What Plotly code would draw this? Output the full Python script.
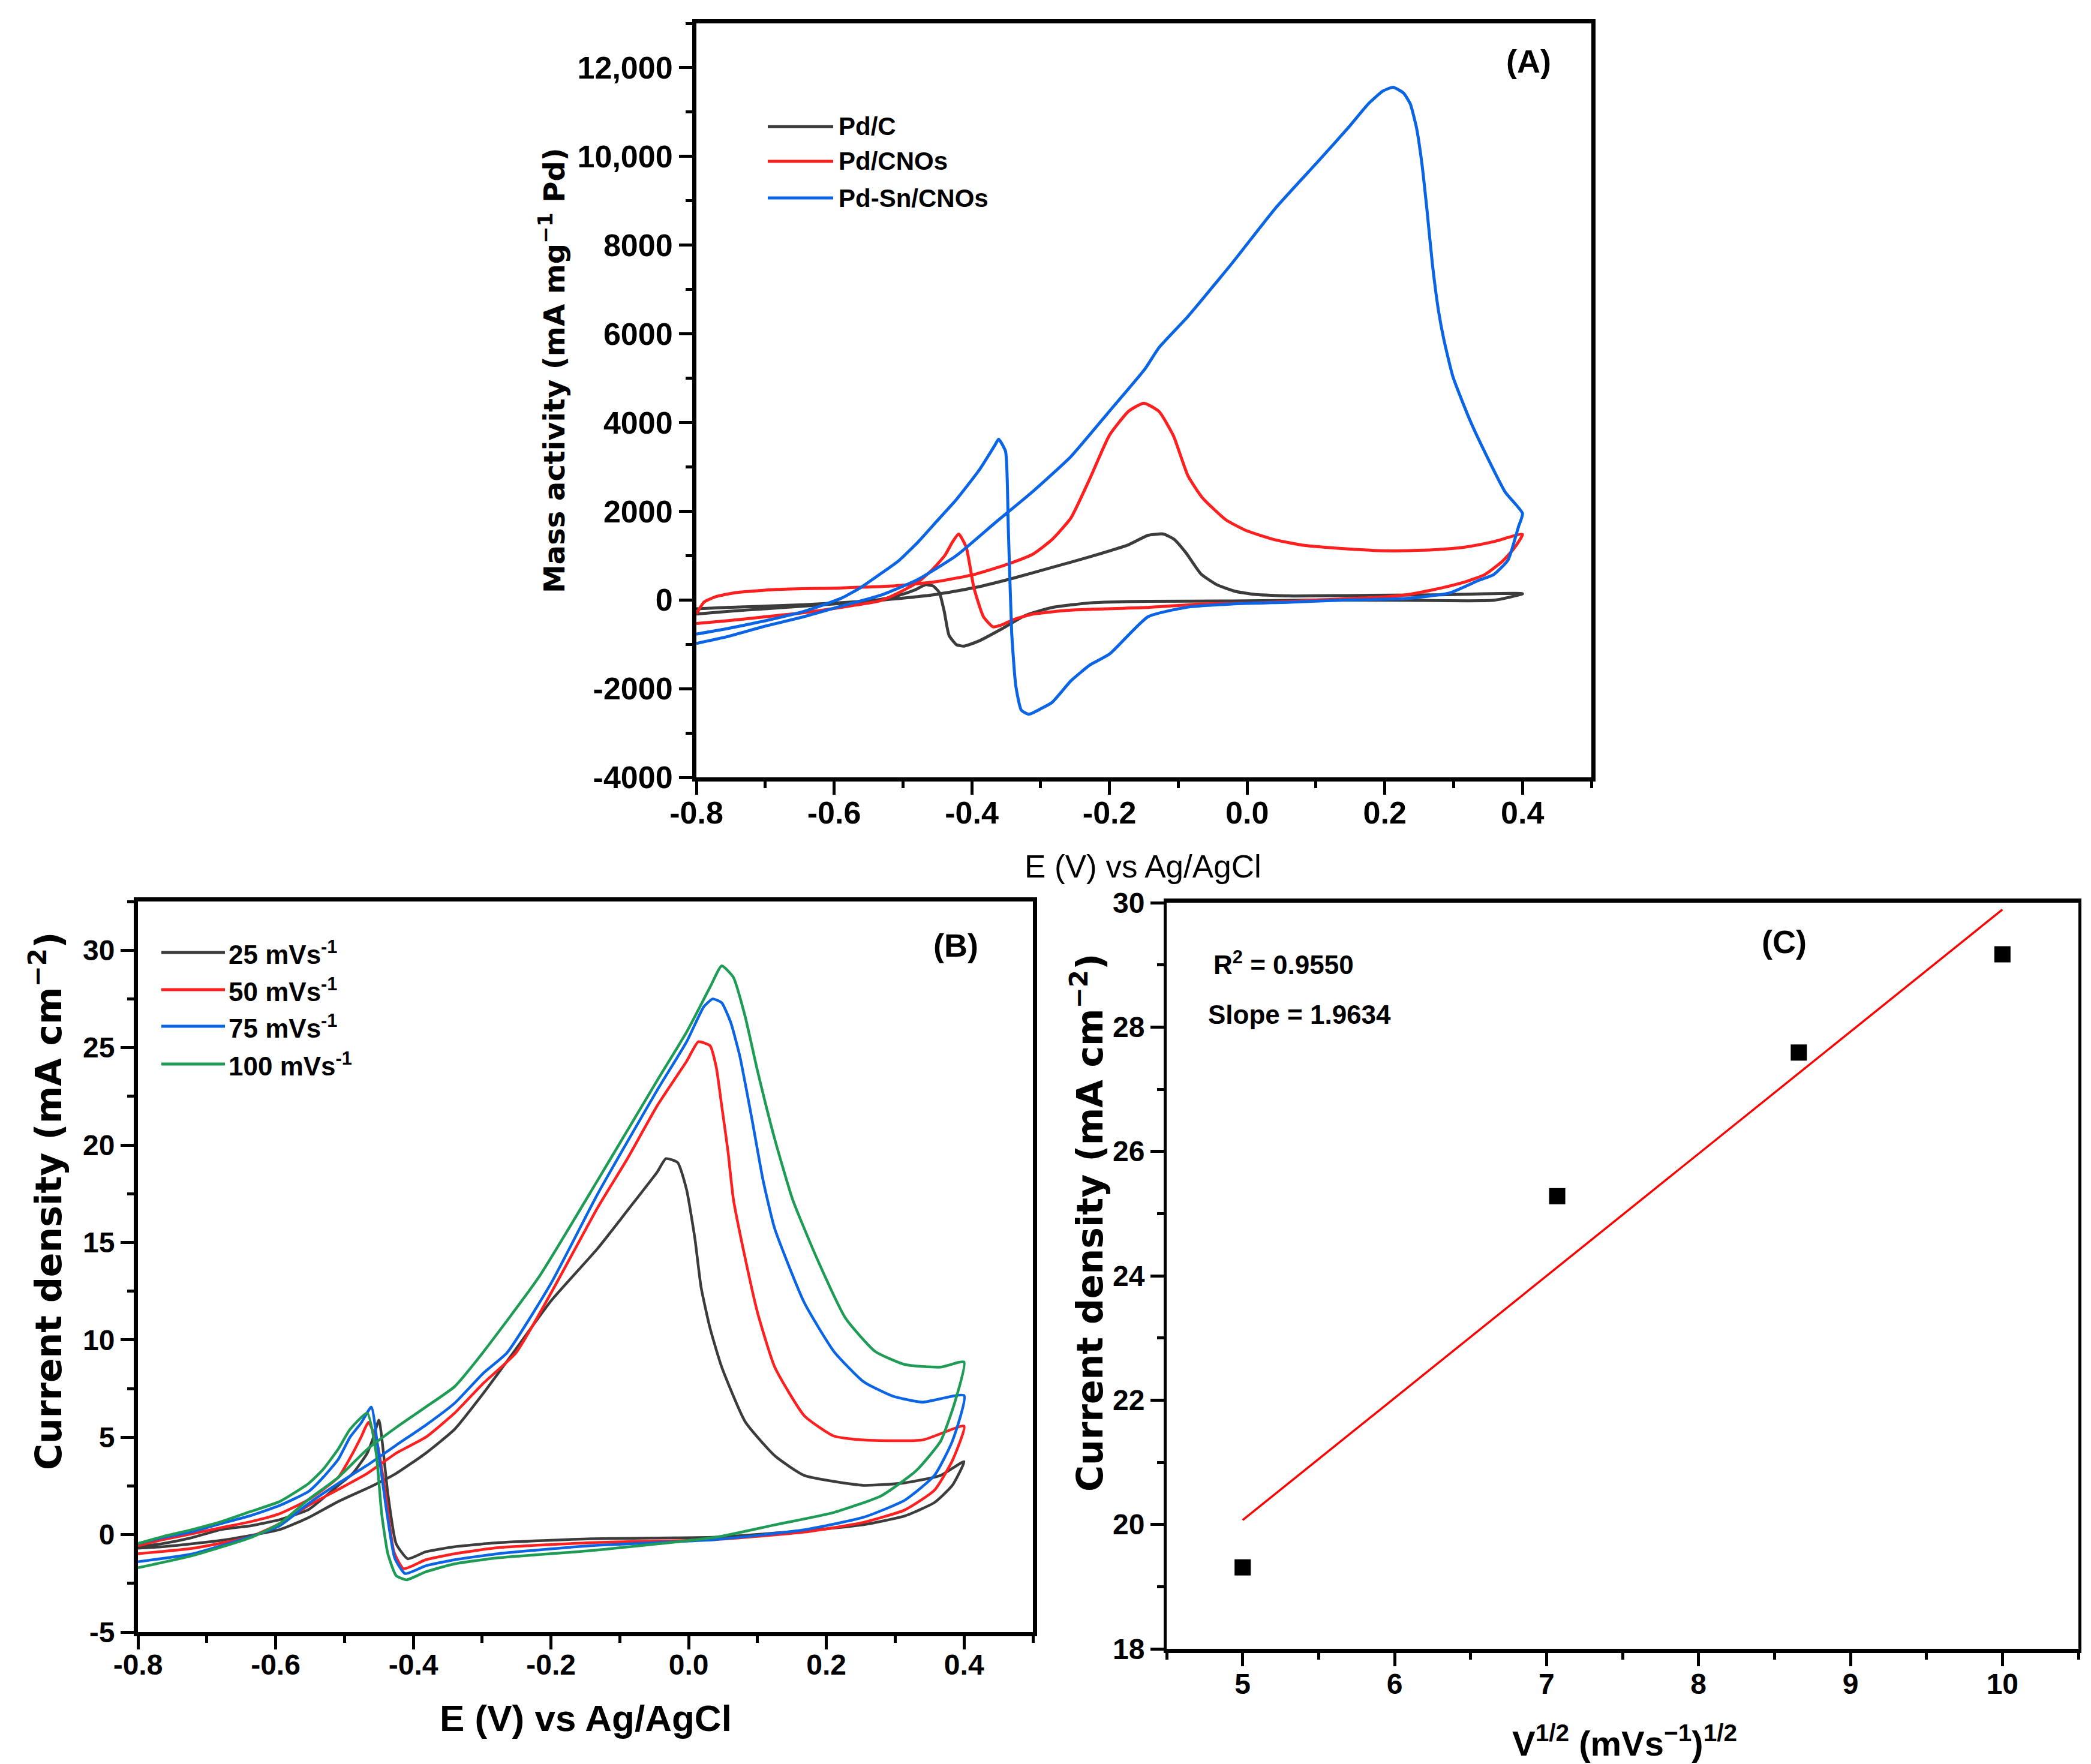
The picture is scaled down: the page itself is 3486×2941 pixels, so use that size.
import plotly.graph_objects as go

W, H = 3486, 2941

# ---------------- panel A: mass activity CVs ----------------
pdc_e = [-0.8, -0.756, -0.644, -0.533, -0.456, -0.394, -0.339, -0.283, -0.228, -0.172, -0.144, -0.122,
         -0.106, -0.089, -0.067, -0.044, -0.017, 0.011, 0.06, 0.147, 0.273, 0.4,
         0.358, 0.231, 0.104, -0.022, -0.144, -0.228, -0.283, -0.322, -0.356, -0.389, -0.411, -0.422,
         -0.433, -0.44, -0.447, -0.456, -0.467, -0.483, -0.506, -0.533, -0.589, -0.644, -0.7, -0.756, -0.8]
pdc_i = [-199, -169, -108, -6, 114, 283, 494, 734, 975, 1246, 1457, 1487,
         1367, 1066, 584, 343, 193, 126, 90, 99, 116, 140,
         -8, -8, 0, -25, -30, -66, -169, -349, -650, -921, -1041, -1011,
         -800, -259, 163, 313, 343, 223, 102, 12, -78, -138, -199, -259, -319]

pdcno_e = [-0.8, -0.789, -0.772, -0.744, -0.683, -0.589, -0.517, -0.45, -0.394, -0.35, -0.311, -0.283,
           -0.256, -0.228, -0.2, -0.172, -0.15, -0.128, -0.107, -0.086, -0.065, -0.031, -0.001, 0.041,
           0.083, 0.147, 0.21, 0.273, 0.316, 0.358, 0.4,
           0.387, 0.37, 0.345, 0.316, 0.273, 0.231, 0.189, 0.104, 0.02, -0.065, -0.144, -0.256, -0.311,
           -0.339, -0.356, -0.369, -0.383, -0.397, -0.408, -0.419, -0.428, -0.439, -0.456, -0.478,
           -0.506, -0.533, -0.578, -0.644, -0.7, -0.756, -0.8]
pdcno_i = [-319, -48, 72, 163, 235, 271, 313, 415, 584, 795, 1035, 1367,
           1848, 2751, 3714, 4256, 4437, 4250, 3700, 2800, 2305, 1809, 1561, 1355,
           1231, 1148, 1107, 1132, 1190, 1313, 1479,
           1148, 859, 570, 405, 240, 116, 58, 0, -66, -91, -169, -229, -319,
           -440, -560, -608, -379, 283, 1186, 1487, 1306, 1005, 704, 403,
           163, -18, -138, -289, -379, -470, -530]

pdsn_e = [-0.8, -0.756, -0.7, -0.644, -0.589, -0.533, -0.478, -0.422, -0.367, -0.311, -0.256, -0.2,
          -0.149, -0.128, -0.086, -0.022, 0.041, 0.104, 0.147, 0.176, 0.197, 0.212, 0.227, 0.237,
          0.246, 0.254, 0.261, 0.269, 0.278, 0.286, 0.299, 0.324, 0.349, 0.375, 0.4,
          0.394, 0.379, 0.358, 0.337, 0.294, 0.231, 0.147, 0.062, -0.022, -0.089, -0.144, -0.2,
          -0.228, -0.256, -0.283, -0.3, -0.317, -0.328, -0.336, -0.342, -0.347, -0.351, -0.361,
          -0.367, -0.389, -0.422, -0.45, -0.478, -0.506, -0.533, -0.561, -0.589, -0.644, -0.7,
          -0.756, -0.8]
pdsn_i = [-981, -831, -590, -379, -138, 102, 464, 1005, 1728, 2450, 3233, 4256,
          5196, 5691, 6393, 7591, 8830, 9904, 10650, 11184, 11473, 11560, 11432, 11184,
          10647, 9821, 8830, 7591, 6517, 5856, 5030, 4039, 3213, 2428, 1950,
          1644, 900, 570, 446, 157, 33, 0, -50, -91, -169, -379, -1222,
          -1463, -1824, -2306, -2456, -2577, -2486, -1944, -740, 1667, 3353, 3624,
          3473, 2932, 2270, 1788, 1306, 885, 584, 283, 42, -259, -470,
          -650, -770]

a_tickvals = [-4000, -2000, 0, 2000, 4000, 6000, 8000, 10000, 12000]
a_ticktext = ["-4000", "-2000", "0", "2000", "4000", "6000", "8000", "10,000", "12,000"]
e_tickvals = [-0.8, -0.6, -0.4, -0.2, 0.0, 0.2, 0.4]
e_ticktext = ["-0.8", "-0.6", "-0.4", "-0.2", "0.0", "0.2", "0.4"]

# ---------------- panel B: scan-rate CVs ----------------
v25_e = [-0.8, -0.764, -0.68, -0.594, -0.552, -0.509, -0.458, -0.425, -0.382, -0.34, -0.298, -0.255,
         -0.2, -0.132, -0.081, -0.046, -0.033, -0.016, -0.003, 0.009, 0.018, 0.031, 0.048, 0.082,
         0.125, 0.168, 0.254, 0.314, 0.366, 0.4,
         0.383, 0.357, 0.314, 0.254, 0.168, 0.04, -0.142, -0.277, -0.34, -0.382, -0.408, -0.425,
         -0.437, -0.45, -0.458, -0.467, -0.488, -0.509, -0.552, -0.594, -0.636, -0.679, -0.721,
         -0.764, -0.8]
v25_j = [-0.7, -0.62, -0.3, 0.26, 0.88, 1.7, 2.53, 3.14, 4.18, 5.41, 7.27, 9.33,
         12.0, 14.7, 17.0, 18.6, 19.3, 19.1, 17.7, 15.2, 12.7, 10.6, 8.6, 5.8,
         4.05, 3.04, 2.53, 2.66, 3.04, 3.75,
         2.53, 1.65, 0.96, 0.51, 0.2, -0.13, -0.21, -0.41, -0.62, -0.88, -1.24, -0.46,
         2.1, 5.88, 5.0, 4.18, 3.14, 2.53, 1.29, 0.77, 0.46, 0.26, -0.15,
         -0.46, -0.62]

v50_e = [-0.8, -0.72, -0.636, -0.594, -0.552, -0.509, -0.467, -0.425, -0.382, -0.34, -0.298, -0.251,
         -0.2, -0.132, -0.089, -0.046, -0.003, 0.014, 0.031, 0.04, 0.048, 0.057, 0.065, 0.082,
         0.1, 0.125, 0.168, 0.211, 0.254, 0.34, 0.4,
         0.383, 0.357, 0.314, 0.254, 0.168, 0.04, -0.142, -0.277, -0.34, -0.382, -0.414, -0.428,
         -0.44, -0.452, -0.465, -0.476, -0.488, -0.509, -0.552, -0.594, -0.636, -0.679, -0.721,
         -0.764, -0.8]
v50_j = [-0.98, -0.7, -0.1, 0.57, 1.5, 2.32, 3.14, 4.18, 5.0, 6.24, 7.78, 9.33,
         12.4, 16.8, 19.3, 22.0, 24.3, 25.3, 25.1, 24.0, 22.0, 19.7, 17.2, 14.2,
         11.4, 8.6, 6.1, 5.06, 4.86, 4.86, 5.57,
         3.8, 2.28, 1.27, 0.63, 0.13, -0.25, -0.41, -0.67, -0.98, -1.29, -1.75, -0.9,
         2.0, 4.6, 5.77, 5.0, 4.18, 2.94, 1.8, 1.08, 0.67, 0.36, 0.05,
         -0.26, -0.57]

v75_e = [-0.8, -0.72, -0.636, -0.594, -0.552, -0.509, -0.467, -0.425, -0.382, -0.34, -0.298, -0.264,
         -0.2, -0.132, -0.046, -0.003, 0.022, 0.035, 0.048, 0.061, 0.074, 0.091, 0.108, 0.125,
         0.168, 0.211, 0.254, 0.297, 0.34, 0.4,
         0.383, 0.357, 0.314, 0.254, 0.168, 0.04, -0.142, -0.277, -0.34, -0.382, -0.412, -0.427,
         -0.44, -0.452, -0.461, -0.476, -0.492, -0.509, -0.531, -0.552, -0.594, -0.636, -0.679,
         -0.721, -0.764, -0.8]
v75_j = [-1.39, -0.98, -0.1, 0.46, 1.6, 2.63, 3.56, 4.59, 5.62, 6.75, 8.3, 9.33,
         12.9, 17.5, 22.8, 25.3, 27.1, 27.5, 27.3, 26.3, 24.6, 21.5, 18.2, 15.7,
         11.9, 9.4, 7.85, 7.1, 6.8, 7.14,
         4.8, 3.04, 1.77, 0.89, 0.25, -0.25, -0.57, -0.98, -1.29, -1.6, -2.0, -1.2,
         1.5, 4.6, 6.55, 5.72, 5.0, 3.87, 2.94, 2.22, 1.5, 0.98, 0.57,
         0.15, -0.15, -0.46]

v100_e = [-0.8, -0.721, -0.636, -0.594, -0.552, -0.509, -0.467, -0.425, -0.382, -0.34, -0.3, -0.218,
          -0.132, -0.046, -0.003, 0.031, 0.048, 0.065, 0.082, 0.1, 0.125, 0.151, 0.186, 0.228,
          0.271, 0.314, 0.366, 0.4,
          0.387, 0.366, 0.331, 0.28, 0.211, 0.125, 0.04, -0.142, -0.277, -0.34, -0.382, -0.41,
          -0.425, -0.437, -0.446, -0.454, -0.467, -0.492, -0.509, -0.531, -0.552, -0.594, -0.636,
          -0.679, -0.721, -0.764, -0.8]
v100_j = [-1.7, -1.08, -0.15, 0.57, 1.81, 2.94, 4.38, 5.5, 6.55, 7.6, 9.3, 13.2,
          18.2, 23.3, 25.8, 28.1, 29.2, 28.6, 26.6, 23.8, 20.3, 17.2, 14.2, 11.1,
          9.4, 8.73, 8.6, 8.86,
          6.84, 4.8, 3.3, 2.0, 1.14, 0.5, -0.13, -0.82, -1.19, -1.5, -1.91, -2.32,
          -2.1, -0.98, 1.08, 4.18, 6.24, 5.4, 4.4, 3.35, 2.63, 1.7, 1.19,
          0.67, 0.26, -0.1, -0.46]

b_tickvals = [-5, 0, 5, 10, 15, 20, 25, 30]
b_ticktext = ["-5", "0", "5", "10", "15", "20", "25", "30"]

# ---------------- panel C: peak current vs sqrt(scan rate) ----------------
sqrt_rate = [5.0, 7.07, 8.66, 10.0]
peak_j = [19.31, 25.28, 27.59, 29.17]
fit_x = [5.0, 10.0]
fit_y = [20.07, 29.89]
c_xticks = [5, 6, 7, 8, 9, 10]
c_yticks = [18, 20, 22, 24, 26, 28, 30]

BLACK = "#3c3c3c"
RED = "#ff1f1f"
BLUE = "#0a64e6"
GREEN = "#1e9c55"

ARIAL = "Liberation Sans, Arial"
WIDE = "DejaVu Sans, Verdana"


def px_x(p):
    return p / W


def px_y(p):
    return 1 - p / H


fig = go.Figure()

for e, i, c, n in [(pdc_e, pdc_i, BLACK, "Pd/C"), (pdcno_e, pdcno_i, RED, "Pd/CNOs"),
                   (pdsn_e, pdsn_i, BLUE, "Pd-Sn/CNOs")]:
    fig.add_trace(go.Scatter(x=e, y=i, mode="lines", name=n,
                             line=dict(color=c, width=5, shape="spline", smoothing=0.5),
                             xaxis="x", yaxis="y", showlegend=False))

for e, j, c, n in [(v25_e, v25_j, BLACK, "25 mVs-1"), (v50_e, v50_j, RED, "50 mVs-1"),
                   (v75_e, v75_j, BLUE, "75 mVs-1"), (v100_e, v100_j, GREEN, "100 mVs-1")]:
    fig.add_trace(go.Scatter(x=e, y=j, mode="lines", name=n,
                             line=dict(color=c, width=4.5, shape="spline", smoothing=0.5),
                             xaxis="x2", yaxis="y2", showlegend=False))

fig.add_trace(go.Scatter(x=fit_x, y=fit_y, mode="lines", line=dict(color="#ff0000", width=3.5),
                         xaxis="x3", yaxis="y3", showlegend=False))
fig.add_trace(go.Scatter(x=sqrt_rate, y=peak_j, mode="markers",
                         marker=dict(symbol="square", size=27, color="black"),
                         xaxis="x3", yaxis="y3", showlegend=False))

frame = dict(showline=True, linecolor="black", linewidth=7, mirror=True, ticks="outside",
             tickcolor="black", tickwidth=5, ticklen=22, showgrid=False, zeroline=False,
             automargin=False)


def minor(step, start):
    return dict(ticks="outside", ticklen=11, tickwidth=5, tickcolor="black", dtick=step, tick0=start,
                showgrid=False)


tf_a = dict(family=ARIAL, size=52, color="black", weight="bold")
tf_b = dict(family=ARIAL, size=48, color="black", weight="bold")

fig.update_layout(
    width=W, height=H, margin=dict(l=0, r=0, t=0, b=0, autoexpand=False),
    paper_bgcolor="white", plot_bgcolor="white",
    xaxis=dict(frame, domain=[px_x(1153), px_x(2645)], range=[-0.8, 0.5], anchor="y",
               tickvals=e_tickvals, ticktext=e_ticktext, tickfont=tf_a, minor=minor(0.1, -0.8),
               ticklabelstandoff=-14),
    yaxis=dict(frame, domain=[px_y(1288), px_y(31)], range=[-4000, 13000], anchor="x",
               tickvals=a_tickvals, ticktext=a_ticktext, tickfont=tf_a, minor=minor(1000, 0)),
    xaxis2=dict(frame, domain=[px_x(222), px_x(1714)], range=[-0.8, 0.5], anchor="y2",
                tickvals=e_tickvals, ticktext=e_ticktext, tickfont=tf_b, minor=minor(0.1, -0.8),
                ticklabelstandoff=-16),
    yaxis2=dict(frame, domain=[px_y(2713), px_y(1495)], range=[-5, 32.5], anchor="x2",
                tickvals=b_tickvals, ticktext=b_ticktext, tickfont=tf_b, minor=minor(2.5, 0)),
    xaxis3=dict(frame, domain=[px_x(1937), px_x(3457)], range=[4.5, 10.5], anchor="y3",
                tickvals=c_xticks, tickfont=tf_b, minor=minor(0.5, 4.5), ticklabelstandoff=-12),
    yaxis3=dict(frame, domain=[px_y(2741), px_y(1497)], range=[18, 30], anchor="x3",
                tickvals=c_yticks, tickfont=tf_b, minor=minor(1, 18), linewidth=5),
)

ann = []


def label(x, y, text, family, size, xanchor="center", textangle=0, weight="bold"):
    ann.append(dict(x=px_x(x), y=px_y(y), xref="paper", yref="paper", text=text, showarrow=False,
                    xanchor=xanchor, yanchor="middle", textangle=textangle,
                    font=dict(family=family, size=size, color="black", weight=weight)))


# axis titles
label(913, 610, "Mass activity (mA mg<sup>−1</sup> Pd)", WIDE, 48, textangle=-90)
label(1897, 1436, "E (V) vs Ag/AgCl", ARIAL, 53, weight="normal")
label(69, 1995, "Current density (mA cm<sup>−2</sup>)", WIDE, 60, textangle=-90)
label(968, 2856, "E (V) vs Ag/AgCl", ARIAL, 62)
label(1805, 2030, "Current density (mA cm<sup>−2</sup>)", WIDE, 60, textangle=-90)
label(2700, 2894, "V<sup>1/2</sup> (mVs<sup>−1</sup>)<sup>1/2</sup>", ARIAL, 58)

# panel tags
label(2540, 94, "(A)", ARIAL, 54)
label(1585, 1568, "(B)", ARIAL, 54)
label(2966, 1562, "(C)", ARIAL, 54)

# fit statistics
label(2013, 1597, "R<sup>2</sup> = 0.9550", ARIAL, 44, xanchor="left")
label(2004, 1683, "Slope = 1.9634", ARIAL, 44, xanchor="left")

# legends drawn as short line keys with text
shapes = []
for yy, c, t in [(203, BLACK, "Pd/C"), (261, RED, "Pd/CNOs"), (322, BLUE, "Pd-Sn/CNOs")]:
    shapes.append(dict(type="line", xref="paper", yref="paper", x0=px_x(1272), x1=px_x(1381),
                       y0=px_y(yy), y1=px_y(yy), line=dict(color=c, width=5)))
    label(1388, yy, t, ARIAL, 42, xanchor="left")

for yy, c, t in [(1580, BLACK, "25 mVs<sup>-1</sup>"), (1642, RED, "50 mVs<sup>-1</sup>"),
                 (1703, BLUE, "75 mVs<sup>-1</sup>"), (1766, GREEN, "100 mVs<sup>-1</sup>")]:
    shapes.append(dict(type="line", xref="paper", yref="paper", x0=px_x(261), x1=px_x(367),
                       y0=px_y(yy), y1=px_y(yy), line=dict(color=c, width=5)))
    label(371, yy, t, ARIAL, 44, xanchor="left")

fig.update_layout(annotations=ann, shapes=shapes)

fig.write_html("out.html")
